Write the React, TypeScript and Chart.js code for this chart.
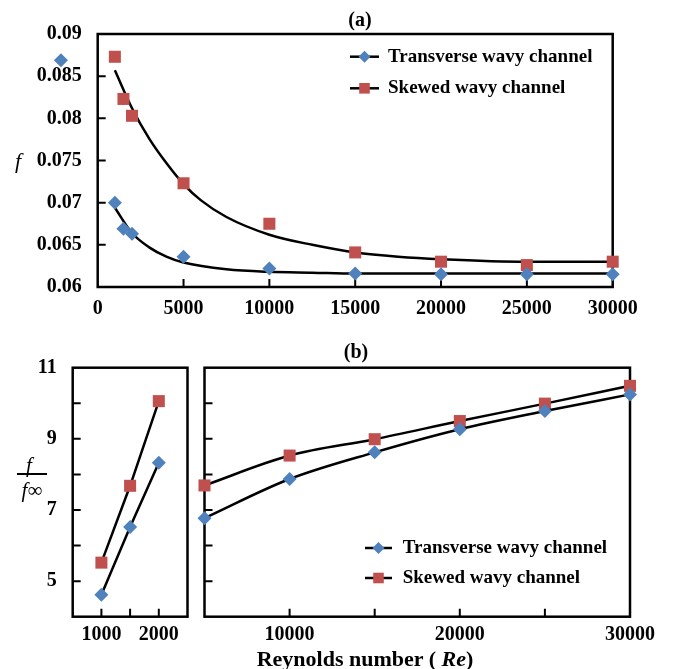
import React, { useEffect, useRef } from 'react';
import { Chart, registerables } from 'chart.js';

Chart.register(...registerables);

// ---------- Panel (a): friction factor f vs Re ----------
const reA = [1000, 1500, 2000, 5000, 10000, 15000, 20000, 25000, 30000];
const fTransverse = [0.0700, 0.0669, 0.0663, 0.0636, 0.0622, 0.0616, 0.0615, 0.0615, 0.0615];
const fSkewed = [0.0873, 0.0823, 0.0803, 0.0723, 0.0675, 0.0641, 0.0630, 0.0626, 0.0630];
// trend-line (fit) curves
const fitReT = [1000, 2000, 3000, 4000, 5000, 7500, 10000, 12500, 15000, 20000, 25000, 30000];
const fitTransverse = [0.0694, 0.0664, 0.0647, 0.0636, 0.0629, 0.0621, 0.0618, 0.0617, 0.0616, 0.0616, 0.0616, 0.0616];
const fitReS = [1000, 2000, 3000, 4000, 5000, 6000, 7500, 10000, 12500, 15000, 17500, 20000, 25000, 30000];
const fitSkewed = [0.0857, 0.0812, 0.0776, 0.0747, 0.0722, 0.0703, 0.0683, 0.0662, 0.0650, 0.0641, 0.0636, 0.0633, 0.0630, 0.0630];
// stray marker that sits left of the axis in the original figure
const strayRe = [-2140];
const strayF = [0.0869];
const aXTicks = [0, 5000, 10000, 15000, 20000, 25000, 30000];
const aYTicks = [0.06, 0.065, 0.07, 0.075, 0.08, 0.085, 0.09];
const aYLabels = ['0.06', '0.065', '0.07', '0.075', '0.08', '0.085', '0.09'];

// ---------- Panel (b): f / f_inf vs Re ----------
const reLow = [1000, 1500, 2000];
const ratioTransverseLow = [4.62, 6.52, 8.33];
const ratioSkewedLow = [5.52, 7.68, 10.06];
const reHigh = [5000, 10000, 15000, 20000, 25000, 30000];
const ratioTransverseHigh = [6.77, 7.87, 8.62, 9.27, 9.78, 10.25];
const ratioSkewedHigh = [7.69, 8.53, 8.99, 9.5, 9.99, 10.49];
const bLowXTicks = [1000, 1500, 2000];
const bLowXLabels = ['1000', '', '2000'];
const bHighXTicks = [10000, 15000, 20000, 25000, 30000];
const bHighXLabels = ['10000', '', '20000', '', '30000'];
const bYTicks = [5, 6, 7, 8, 9, 10, 11];
const bYLabels = ['5', '', '7', '', '9', '', '11'];

const seriesNames = ['Transverse wavy channel', 'Skewed wavy channel'];

const FONT = "'Liberation Serif', 'Times New Roman', serif";
const BLUE = '#4F81BD';
const RED = '#C0504D';

const pts = (xs: number[], ys: number[]) => xs.map((x, i) => ({ x, y: ys[i] }));

function drawMarker(ctx: CanvasRenderingContext2D, style: string, x: number, y: number, r: number) {
  ctx.beginPath();
  if (style === 'rect') {
    const s = Math.SQRT1_2 * r;
    ctx.rect(x - s, y - s, 2 * s, 2 * s);
  } else {
    ctx.moveTo(x - r, y);
    ctx.lineTo(x, y - r);
    ctx.lineTo(x + r, y);
    ctx.lineTo(x, y + r);
    ctx.closePath();
  }
  ctx.fill();
}

const framePlugin = {
  id: 'frame',
  beforeDatasetsDraw(chart: any) {
    const { ctx, chartArea: a } = chart;
    const xs = chart.scales.x;
    const ys = chart.scales.y;
    const len = 8;
    ctx.save();
    ctx.strokeStyle = '#000';
    ctx.lineWidth = 2;
    ctx.beginPath();
    xs.ticks.forEach((t: any) => {
      const px = xs.getPixelForValue(t.value);
      if (px > a.left + 1 && px < a.right - 1) {
        ctx.moveTo(px, a.bottom);
        ctx.lineTo(px, a.bottom - len);
      }
    });
    ys.ticks.forEach((t: any) => {
      const py = ys.getPixelForValue(t.value);
      if (py > a.top + 1 && py < a.bottom - 1) {
        ctx.moveTo(a.left, py);
        ctx.lineTo(a.left + len, py);
      }
    });
    ctx.stroke();
    ctx.lineWidth = 2.5;
    ctx.strokeRect(a.left, a.top, a.right - a.left, a.bottom - a.top);
    ctx.restore();
  },
};

// markers lying outside the axis range (drawn through the chart's own scales)
const strayPlugin = {
  id: 'strayMarkers',
  afterDatasetsDraw(chart: any, _args: any, opts: any) {
    if (!opts || !opts.enabled) return;
    const ctx = chart.ctx as CanvasRenderingContext2D;
    const xs = chart.scales.x;
    const ys = chart.scales.y;
    ctx.save();
    ctx.fillStyle = opts.color;
    opts.xs.forEach((xv: number, i: number) => {
      drawMarker(ctx, opts.style, xs.getPixelForValue(xv), ys.getPixelForValue(opts.ys[i]), 7);
    });
    ctx.restore();
  },
};

const legendPlugin = {
  id: 'markerLegend',
  afterDraw(chart: any, _args: any, opts: any) {
    if (!opts || !opts.enabled) return;
    const ctx = chart.ctx as CanvasRenderingContext2D;
    const items = chart.data.datasets.filter((d: any) => d.inLegend);
    items.forEach((d: any, i: number) => {
      const y = opts.y + i * opts.dy;
      ctx.save();
      ctx.strokeStyle = '#000';
      ctx.lineWidth = 2.5;
      ctx.beginPath();
      ctx.moveTo(opts.x1, y);
      ctx.lineTo(opts.x2, y);
      ctx.stroke();
      ctx.fillStyle = d.pointBackgroundColor;
      drawMarker(ctx, d.pointStyle, (opts.x1 + opts.x2) / 2, y, d.pointStyle === 'rect' ? 7.5 : 6);
      ctx.fillStyle = '#000';
      ctx.font = `bold 19px ${FONT}`;
      ctx.textBaseline = 'middle';
      ctx.textAlign = 'left';
      ctx.fillText(d.label, opts.textX, y);
      ctx.restore();
    });
  },
};

function markerSet(label: string, data: any[], color: string, style: string, inLegend: boolean, line: boolean) {
  return {
    label,
    data,
    showLine: line,
    borderColor: '#000',
    borderWidth: 2.5,
    tension: 0,
    pointStyle: style,
    pointRadius: style === 'rect' ? 8.5 : 7,
    pointBackgroundColor: color,
    pointBorderColor: color,
    pointBorderWidth: 0,
    inLegend,
    clip: false,
  };
}

function fitSet(label: string, data: any[]) {
  return {
    label,
    data,
    borderColor: '#000',
    borderWidth: 2.5,
    pointRadius: 0,
    cubicInterpolationMode: 'monotone',
    clip: false,
  };
}

function tickFont(size = 20) {
  return { family: FONT, size, weight: 'bold' as const };
}

function makeConfig(p: {
  datasets: any[];
  xMin: number; xMax: number; xTicks: number[]; xLabels: string[];
  yMin: number; yMax: number; yTicks: number[]; yLabels: string[];
  yWidth: number; xHeight: number; padTop: number; padRight: number;
  showY: boolean; xPad: number; legend: any; stray: any;
}) {
  return {
    type: 'line',
    data: { datasets: p.datasets },
    plugins: [framePlugin, strayPlugin, legendPlugin],
    options: {
      animation: false,
      responsive: false,
      maintainAspectRatio: false,
      events: [],
      layout: { padding: { left: 0, top: p.padTop, right: p.padRight, bottom: 0 } },
      plugins: {
        legend: { display: false },
        tooltip: { enabled: false },
        title: { display: false },
        markerLegend: p.legend,
        strayMarkers: p.stray,
      },
      scales: {
        x: {
          type: 'linear',
          min: p.xMin,
          max: p.xMax,
          grid: { display: false, drawTicks: false },
          border: { display: false },
          afterBuildTicks: (s: any) => { s.ticks = p.xTicks.map((v) => ({ value: v })); },
          afterFit: (s: any) => { s.height = p.xHeight; },
          ticks: {
            autoSkip: false,
            maxRotation: 0,
            padding: p.xPad,
            color: '#000',
            font: tickFont(),
            callback: (v: any) => { const i = p.xTicks.indexOf(Number(v)); return i >= 0 ? p.xLabels[i] : ''; },
          },
        },
        y: {
          type: 'linear',
          min: p.yMin,
          max: p.yMax,
          grid: { display: false, drawTicks: false },
          border: { display: false },
          afterBuildTicks: (s: any) => { s.ticks = p.yTicks.map((v) => ({ value: v })); },
          afterFit: (s: any) => { s.width = p.yWidth; },
          ticks: {
            display: p.showY,
            autoSkip: false,
            padding: 16,
            color: '#000',
            font: tickFont(),
            callback: (v: any) => {
              const i = p.yTicks.findIndex((t) => Math.abs(t - Number(v)) < 1e-9);
              return i >= 0 ? p.yLabels[i] : '';
            },
          },
        },
      },
    },
  } as any;
}

export default function App() {
  const aRef = useRef<HTMLCanvasElement>(null);
  const lRef = useRef<HTMLCanvasElement>(null);
  const rRef = useRef<HTMLCanvasElement>(null);

  useEffect(() => {
    const charts: Chart[] = [];
    charts.push(new Chart(aRef.current!, makeConfig({
      datasets: [
        markerSet(seriesNames[0], pts(reA, fTransverse), BLUE, 'rectRot', true, false),
        markerSet(seriesNames[1], pts(reA, fSkewed), RED, 'rect', true, false),
        fitSet('Transverse fit', pts(fitReT, fitTransverse)),
        fitSet('Skewed fit', pts(fitReS, fitSkewed)),
      ],
      xMin: 0, xMax: 30000, xTicks: aXTicks, xLabels: aXTicks.map(String),
      yMin: 0.06, yMax: 0.09, yTicks: aYTicks, yLabels: aYLabels,
      yWidth: 97.7, xHeight: 33, padTop: 34, padRight: 60.3, showY: true, xPad: 10,
      legend: { enabled: true, x1: 350, x2: 379, textX: 388, y: 56.7, dy: 31.6 },
      stray: { enabled: true, xs: strayRe, ys: strayF, color: BLUE, style: 'rectRot' },
    })));
    charts.push(new Chart(lRef.current!, makeConfig({
      datasets: [
        markerSet(seriesNames[0], pts(reLow, ratioTransverseLow), BLUE, 'rectRot', false, true),
        markerSet(seriesNames[1], pts(reLow, ratioSkewedLow), RED, 'rect', false, true),
      ],
      xMin: 500, xMax: 2500, xTicks: bLowXTicks, xLabels: bLowXLabels,
      yMin: 4, yMax: 11, yTicks: bYTicks, yLabels: bYLabels,
      yWidth: 72.7, xHeight: 52.3, padTop: 37.7, padRight: 6, showY: true, xPad: 6,
      legend: { enabled: false },
      stray: { enabled: false },
    })));
    charts.push(new Chart(rRef.current!, makeConfig({
      datasets: [
        { ...markerSet(seriesNames[0], pts(reHigh, ratioTransverseHigh), BLUE, 'rectRot', true, true), cubicInterpolationMode: 'monotone' },
        { ...markerSet(seriesNames[1], pts(reHigh, ratioSkewedHigh), RED, 'rect', true, true), cubicInterpolationMode: 'monotone' },
      ],
      xMin: 5000, xMax: 30000, xTicks: bHighXTicks, xLabels: bHighXLabels,
      yMin: 4, yMax: 11, yTicks: bYTicks, yLabels: bYLabels,
      yWidth: 5.7, xHeight: 52.3, padTop: 37.7, padRight: 43, showY: false, xPad: 6,
      legend: { enabled: true, x1: 169, x2: 196, textX: 206.7, y: 218, dy: 30 },
      stray: { enabled: false },
    })));
    return () => charts.forEach((c) => c.destroy());
  }, []);

  const abs = (left: number, top: number): React.CSSProperties => ({ position: 'absolute', left, top });
  const label = (cx: number, cy: number, size: number, extra: React.CSSProperties = {}): React.CSSProperties => ({
    position: 'absolute', left: cx, top: cy, transform: 'translate(-50%, -50%)',
    fontFamily: FONT, fontSize: size, fontWeight: 'bold', whiteSpace: 'nowrap', lineHeight: 1, color: '#000', ...extra,
  });

  return (
    <div style={{ position: 'absolute', left: 0, top: 0, width: 673, height: 669, background: '#fff', overflow: 'hidden' }}>
      <canvas ref={aRef} width={673} height={320} style={{ ...abs(0, 0), width: 673, height: 320 }} />
      <canvas ref={lRef} width={196} height={339} style={{ ...abs(0, 330), width: 196, height: 339 }} />
      <canvas ref={rRef} width={477} height={339} style={{ ...abs(196, 330), width: 477, height: 339 }} />
      <div style={label(360, 19, 20)}>(a)</div>
      <div style={label(356, 351, 20)}>(b)</div>
      <div style={label(18, 161, 22, { fontStyle: 'italic', fontWeight: 'normal' })}>f</div>
      <div style={label(29, 465, 21, { fontStyle: 'italic', fontWeight: 'normal' })}>f</div>
      <div style={{ position: 'absolute', left: 17, top: 473, width: 30, height: 1.5, background: '#000' }} />
      <div style={label(32, 490, 21, { fontWeight: 'normal' })}><i>f</i>∞</div>
      <div style={label(365, 659, 22)}>Reynolds number ( <i>Re</i>)</div>
    </div>
  );
}
